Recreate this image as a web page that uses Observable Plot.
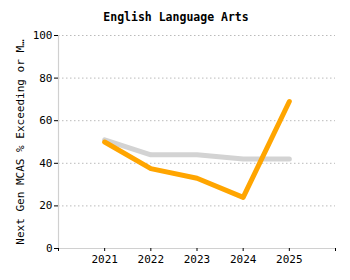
<!DOCTYPE html>
<html><head><meta charset="utf-8">
<script src="https://cdn.jsdelivr.net/npm/d3@7"></script>
<script src="https://cdn.jsdelivr.net/npm/@observablehq/plot@0.6"></script>
<style>body{margin:0;background:#fff}</style>
</head><body><div id="chart"></div>
<script>
const title = "English Language Arts";
const yLabel = "Next Gen MCAS % Exceeding or M…";
const years = [2021, 2022, 2023, 2024, 2025];
const schoolValues = [50, 37.5, 33, 24, 69];
const stateValues = [51, 44, 44, 42, 42];
const xTicks = [2020, 2021, 2022, 2023, 2024, 2025, 2026];
const yTicks = [0, 20, 40, 60, 80, 100];

const school = years.map((y, i) => ({year: y, value: schoolValues[i]}));
const state = years.map((y, i) => ({year: y, value: stateValues[i]}));

const chart = Plot.plot({
  width: 350, height: 280,
  marginLeft: 58, marginRight: 15, marginTop: 35, marginBottom: 32,
  style: {fontFamily: "DejaVu Sans Mono", fontSize: "11px", color: "#000"},
  x: {domain: [2020, 2026]},
  y: {domain: [0, 100]},
  marks: [
    Plot.gridY(yTicks.slice(1), {stroke: "#bbb", strokeOpacity: 1, strokeDasharray: "1.5,2.5"}),
    Plot.ruleX([2020], {stroke: "#d0d0d0", strokeWidth: 1.2}),
    Plot.ruleY([0], {stroke: "#d0d0d0", strokeWidth: 1.2}),
    Plot.axisY(yTicks, {tickSize: 4, tickPadding: 2, label: yLabel, labelAnchor: "center", labelArrow: "none", labelOffset: 42, fontSize: 11}),
    Plot.axisX(xTicks, {tickSize: 3, tickPadding: 4, tickFormat: d => (d === 2020 || d === 2026) ? "" : String(d), label: null}),
    Plot.line(state, {x: "year", y: "value", stroke: "#d3d3d3", strokeWidth: 5}),
    Plot.line(school, {x: "year", y: "value", stroke: "#ffa500", strokeWidth: 5}),
    Plot.text([title], {frameAnchor: "top", dx: -21, dy: -23, fontWeight: "bold", fontSize: 11.5})
  ]
});
document.getElementById("chart").appendChild(chart);
</script></body></html>
